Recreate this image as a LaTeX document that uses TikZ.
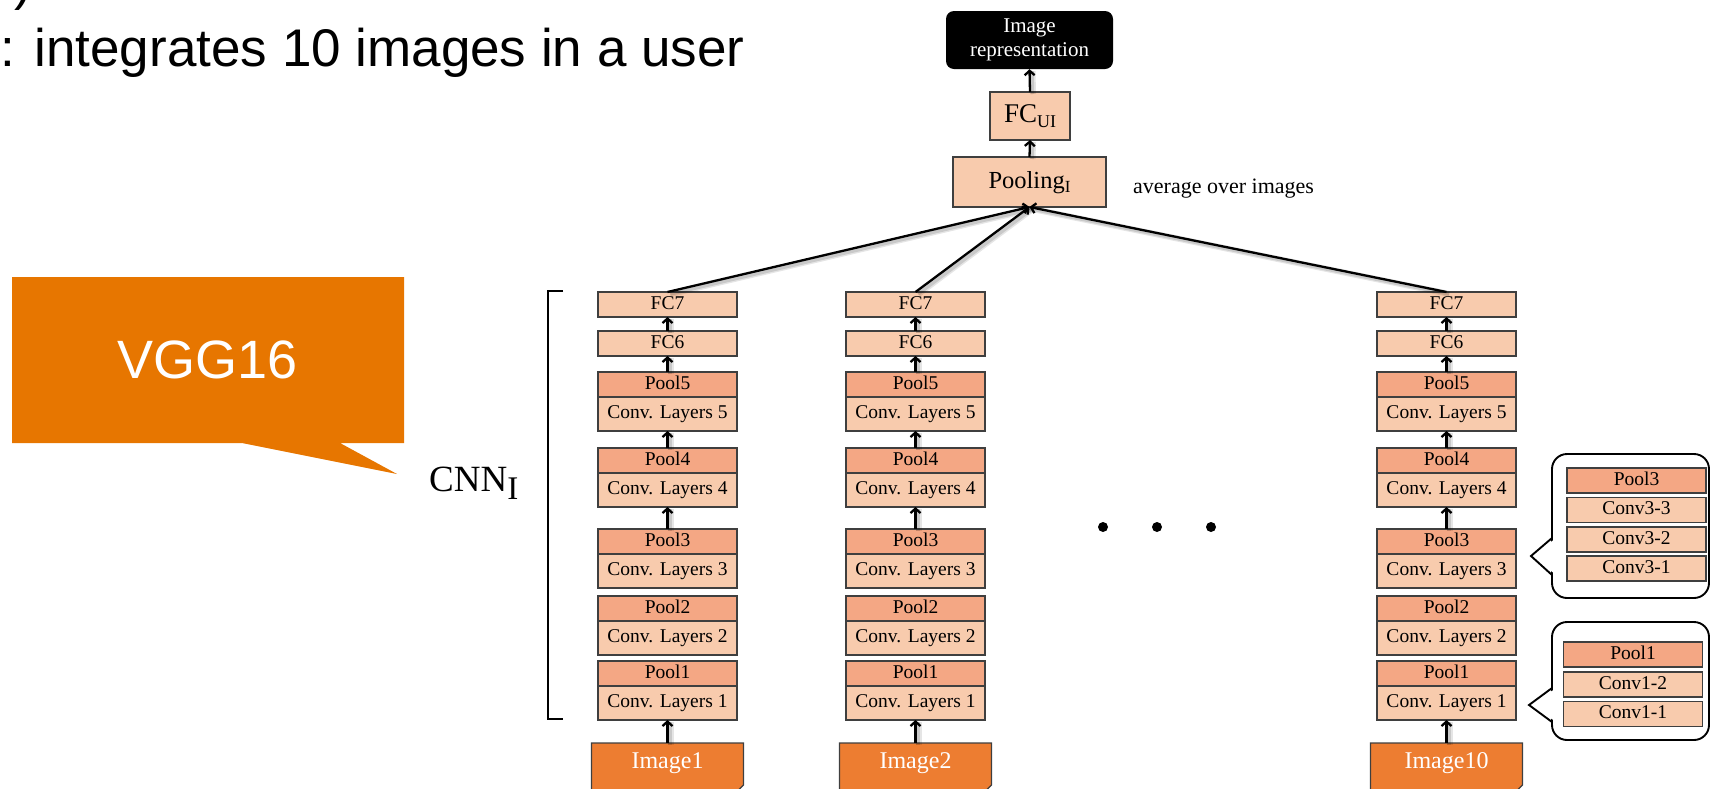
\documentclass[tikz,border=0pt]{standalone}
\usepackage{fontspec}
\setmainfont{Liberation Serif}
\newfontfamily\sansfont{Liberation Sans}
\usetikzlibrary{arrows.meta}
\definecolor{lightor}{HTML}{F8CBAD}
\definecolor{poolor}{HTML}{F4A784}
\definecolor{imgor}{HTML}{ED7D31}
\definecolor{callor}{HTML}{E77600}
\definecolor{edge}{HTML}{3F3F3F}

\begin{document}
\begin{tikzpicture}[x=1pt,y=-1pt,
  layer/.style={draw=edge, line width=1.3pt, fill=lightor, minimum width=139pt,
    inner sep=0pt, outer sep=0pt, text height=13pt, text depth=4pt,
    font=\fontsize{19.5}{21}\selectfont},
  poolbox/.style={layer, fill=poolor, minimum height=25pt},
  convbox/.style={layer, minimum height=34pt},
  fcbox/.style={layer, minimum height=25pt},
  flow/.style={draw=black, line width=2.3pt, -{Straight Barb[length=4.5pt,width=10pt]},
    preaction={draw=black, opacity=0.10, line width=6pt, -, transform canvas={shift={(3pt,-2pt)}}},
    preaction={draw=black, opacity=0.12, line width=3.5pt, -, transform canvas={shift={(2.5pt,-2pt)}}}},
  balloon/.style={draw=black, line width=1.9pt, fill=white},
]
\useasboundingbox (0,0) rectangle (1711,788);

% heading text (the line above is cut by the page edge)
\node[anchor=base west, inner sep=0pt, font=\sansfont\fontsize{53}{60}\selectfont] (prev) at (14,-1) {)};
\node[anchor=base west, inner sep=0pt, font=\sansfont\fontsize{53}{60}\selectfont] (head) at (0,66) {: integrates 10 images in a user};

% VGG16 speech balloon
\fill[callor] (12,277) -- (404,277) -- (404,443) -- (340,443) -- (397,474) -- (242,443) -- (12,443) -- cycle;
\node[text=white, font=\sansfont\fontsize{54}{60}\selectfont, inner sep=0pt] (vgg) at (207.5,360) {VGG16};

% CNN label and bracket
\node[anchor=base west, inner sep=0pt, font=\fontsize{37}{40}\selectfont] (cnn) at (429,491) {CNN\raisebox{-8pt}{\fontsize{33}{33}\selectfont I}};
\draw[line width=2pt] (563,291) -- (548,291) -- (548,719) -- (563,719);

% three CNN columns
\foreach \n/\cx/\img in {a/667.5/Image1, b/915.5/Image2, c/1446.5/Image10} {
  \node[fcbox] (\n fc7) at (\cx,304.5) {FC7};
  \node[fcbox] (\n fc6) at (\cx,343.5) {FC6};
  \node[convbox] (\n conv5) at (\cx,414) {Conv. Layers 5};
  \node[poolbox] (\n pool5) at (\cx,384.5) {Pool5};
  \node[convbox] (\n conv4) at (\cx,490) {Conv. Layers 4};
  \node[poolbox] (\n pool4) at (\cx,460.5) {Pool4};
  \node[convbox] (\n conv3) at (\cx,571) {Conv. Layers 3};
  \node[poolbox] (\n pool3) at (\cx,541.5) {Pool3};
  \node[convbox] (\n conv2) at (\cx,638) {Conv. Layers 2};
  \node[poolbox] (\n pool2) at (\cx,608.5) {Pool2};
  \node[convbox] (\n conv1) at (\cx,703) {Conv. Layers 1};
  \node[poolbox] (\n pool1) at (\cx,673.5) {Pool1};
  % input image sheet with a folded corner
  \draw[draw=edge, line width=1.3pt, fill=imgor]
    (\cx-76,743) -- (\cx+76,743) -- (\cx+76,785) -- (\cx+66,795) -- (\cx-76,795) -- cycle;
  \node[minimum width=152pt, minimum height=41pt, inner sep=0pt, text=white,
        font=\fontsize{24}{26}\selectfont] (\n img) at (\cx,763.5) {\img};
  \draw[flow] (\n img.north) -- (\n conv1.south);
  \draw[flow] (\n pool3.north) -- (\n conv4.south);
  \draw[flow] (\n pool4.north) -- (\n conv5.south);
  \draw[flow] (\n pool5.north) -- (\n fc6.south);
  \draw[flow] (\n fc6.north) -- (\n fc7.south);
}

% ellipsis between the columns
\fill (1103,527) circle (5pt);
\fill (1157,527) circle (5pt);
\fill (1211,527) circle (5pt);

% aggregation head
\node[layer, minimum width=153pt, minimum height=50pt, text height=17pt, text depth=5pt,
      font=\fontsize{24.5}{26}\selectfont] (pooling) at (1029.5,182) {Pooling\raisebox{-4pt}{\fontsize{17}{17}\selectfont I}};
\node[layer, minimum width=80pt, minimum height=48pt, text height=18pt, text depth=5pt,
      font=\fontsize{27}{29}\selectfont] (fcui) at (1030,116) {FC\raisebox{-5pt}{\fontsize{18}{18}\selectfont UI}};
\node[fill=black, rounded corners=8pt, minimum width=167pt, minimum height=58pt,
      inner sep=0pt, text=white, align=center,
      font=\fontsize{21}{24}\selectfont] (rep) at (1029.5,40) {Image\\representation};
\node[anchor=base west, inner sep=0pt, font=\fontsize{22}{24}\selectfont] (avg) at (1133,193) {average over images};

\draw[flow] (afc7.north) -- (pooling.south);
\draw[flow] (bfc7.north) -- (pooling.south);
\draw[flow] (cfc7.north) -- (pooling.south);
\draw[flow] (pooling.north) -- (fcui.south);
\draw[flow] (fcui.north) -- (rep.south);

% detail balloon for block 3
\draw[balloon, rounded corners=15pt] (1552,454) rectangle (1709,598);
\fill[white] (1555,539) -- (1531,556) -- (1555,574) -- cycle;
\draw[line width=1.9pt, line join=miter] (1552,538) -- (1531,556) -- (1552,575);
\node[poolbox] (d3p) at (1636.5,480.5) {Pool3};
\node[fcbox] (d33) at (1636.5,510) {Conv3-3};
\node[fcbox] (d32) at (1636.5,539.5) {Conv3-2};
\node[fcbox] (d31) at (1636.5,568.5) {Conv3-1};

% detail balloon for block 1
\draw[balloon, rounded corners=15pt] (1552,622) rectangle (1709,740);
\fill[white] (1555,689) -- (1529,705) -- (1555,721) -- cycle;
\draw[line width=1.9pt, line join=miter] (1552,688) -- (1529,705) -- (1552,722);
\node[poolbox] (d1p) at (1633,654.5) {Pool1};
\node[fcbox] (d12) at (1633,684.5) {Conv1-2};
\node[fcbox] (d11) at (1633,714) {Conv1-1};
\end{tikzpicture}
\end{document}
